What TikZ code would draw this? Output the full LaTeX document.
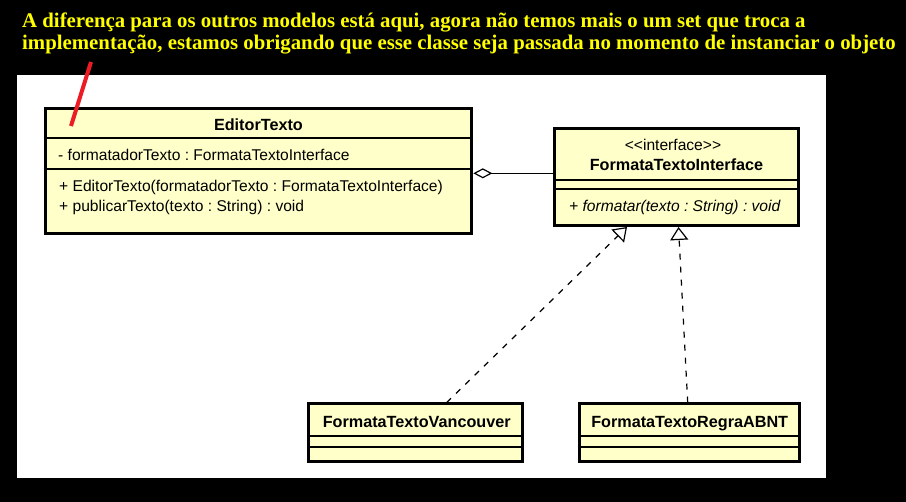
\documentclass[tikz,border=0pt]{standalone}
\usepackage{fontspec}
\setmainfont{Liberation Serif}
\setsansfont{Liberation Sans}
\usetikzlibrary{arrows.meta}
\definecolor{umlfill}{RGB}{255,255,202}
\definecolor{notered}{RGB}{237,28,36}
\definecolor{noteyellow}{RGB}{255,255,0}
\frenchspacing

\begin{document}
\begin{tikzpicture}[x=1pt,y=-1pt,
  cls/.style={draw,line width=3pt,fill=umlfill,inner sep=0pt},
  umltxt/.style={font=\sffamily\fontsize{15.6}{18}\selectfont,inner sep=0pt},
  umlname/.style={font=\sffamily\bfseries\fontsize{16.2}{18}\selectfont,inner sep=0pt,anchor=base},
  umlop/.style={font=\sffamily\itshape\fontsize{15.6}{18}\selectfont,inner sep=0pt},
  sep/.style={line width=1.2pt},
  note/.style={font=\bfseries\fontsize{20.8}{22}\selectfont,text=noteyellow,inner sep=0pt,anchor=base west},
  realize/.style={line width=1.2pt,dash pattern=on 6pt off 7pt,-{Triangle[length=13pt,width=18pt,fill=white]}},
  aggr/.style={line width=1.2pt,-{Diamond[length=19pt,width=10pt,fill=white]}}]
  \useasboundingbox (0,0) rectangle (906,502);
  \fill[black] (0,0) rectangle (906,502);
  \fill[white] (17,75) rectangle (826,478);
  \node[note] (note1) at (22,28) {A diferença para os outros modelos está aqui, agora não temos mais o um set que troca a};
  \node[note] (note2) at (22,50) {implementação, estamos obrigando que esse classe seja passada no momento de instanciar o objeto};
  \coordinate (noteend) at (91,62); \coordinate (pointer) at (71,126);

  \node[cls,minimum width=426.8pt,minimum height=125.3pt] (editor) at (258.4,170.9) {};
  \node[cls,minimum width=244pt,minimum height=97pt] (iface) at (676.5,177) {};
  \node[cls,minimum width=214.5pt,minimum height=58pt] (vanc) at (415.7,433) {};
  \node[cls,minimum width=219.7pt,minimum height=58pt] (regra) at (689.7,433) {};

  \node[umlname] (editorName) at (258.4,130.5) {EditorTexto};
  \draw[sep] (editor.west |- 0,138) -- (editor.east |- 0,138); \draw[sep] (editor.west |- 0,169) -- (editor.east |- 0,169);
  \node[umltxt,anchor=base west] (editorAttr) at (58,161) {- formatadorTexto : FormataTextoInterface};
  \node[umltxt,anchor=base west] (editorOp1) at (59,192) {+ EditorTexto(formatadorTexto : FormataTextoInterface)};
  \node[umltxt,anchor=base west] (editorOp2) at (59,211.5) {+ publicarTexto(texto : String) : void};

  \node[umltxt,anchor=base] (ifaceStereo) at (673,151) {<\kern0pt<interface>\kern0pt>};
  \node[umlname] (ifaceName) at (676.5,171) {FormataTextoInterface};
  \draw[sep] (iface.west |- 0,180) -- (iface.east |- 0,180); \draw[sep] (iface.west |- 0,189) -- (iface.east |- 0,189);
  \node[umlop,anchor=base west] (ifaceOp) at (569,212) {+ formatar(texto : String) : void};

  \node[umlname] (vancName) at (416.7,427.6) {FormataTextoVancouver};
  \draw[sep] (vanc.west |- 0,436) -- (vanc.east |- 0,436); \draw[sep] (vanc.west |- 0,447) -- (vanc.east |- 0,447);
  \node[umlname] (regraName) at (689.7,427.6) {FormataTextoRegraABNT};
  \draw[sep] (regra.west |- 0,436) -- (regra.east |- 0,436); \draw[sep] (regra.west |- 0,447) -- (regra.east |- 0,447);

  \draw[aggr] (iface.west |- 0,173.3) -- (editor.east |- 0,173.3);
  \draw[realize] ([xshift=31pt]vanc.north) -- ([xshift=-49.5pt]iface.south);
  \draw[realize] ([xshift=-2pt]regra.north) -- ([xshift=2pt]iface.south);
  \draw[notered,line width=4pt] (noteend) -- (pointer);
\end{tikzpicture}
\end{document}
